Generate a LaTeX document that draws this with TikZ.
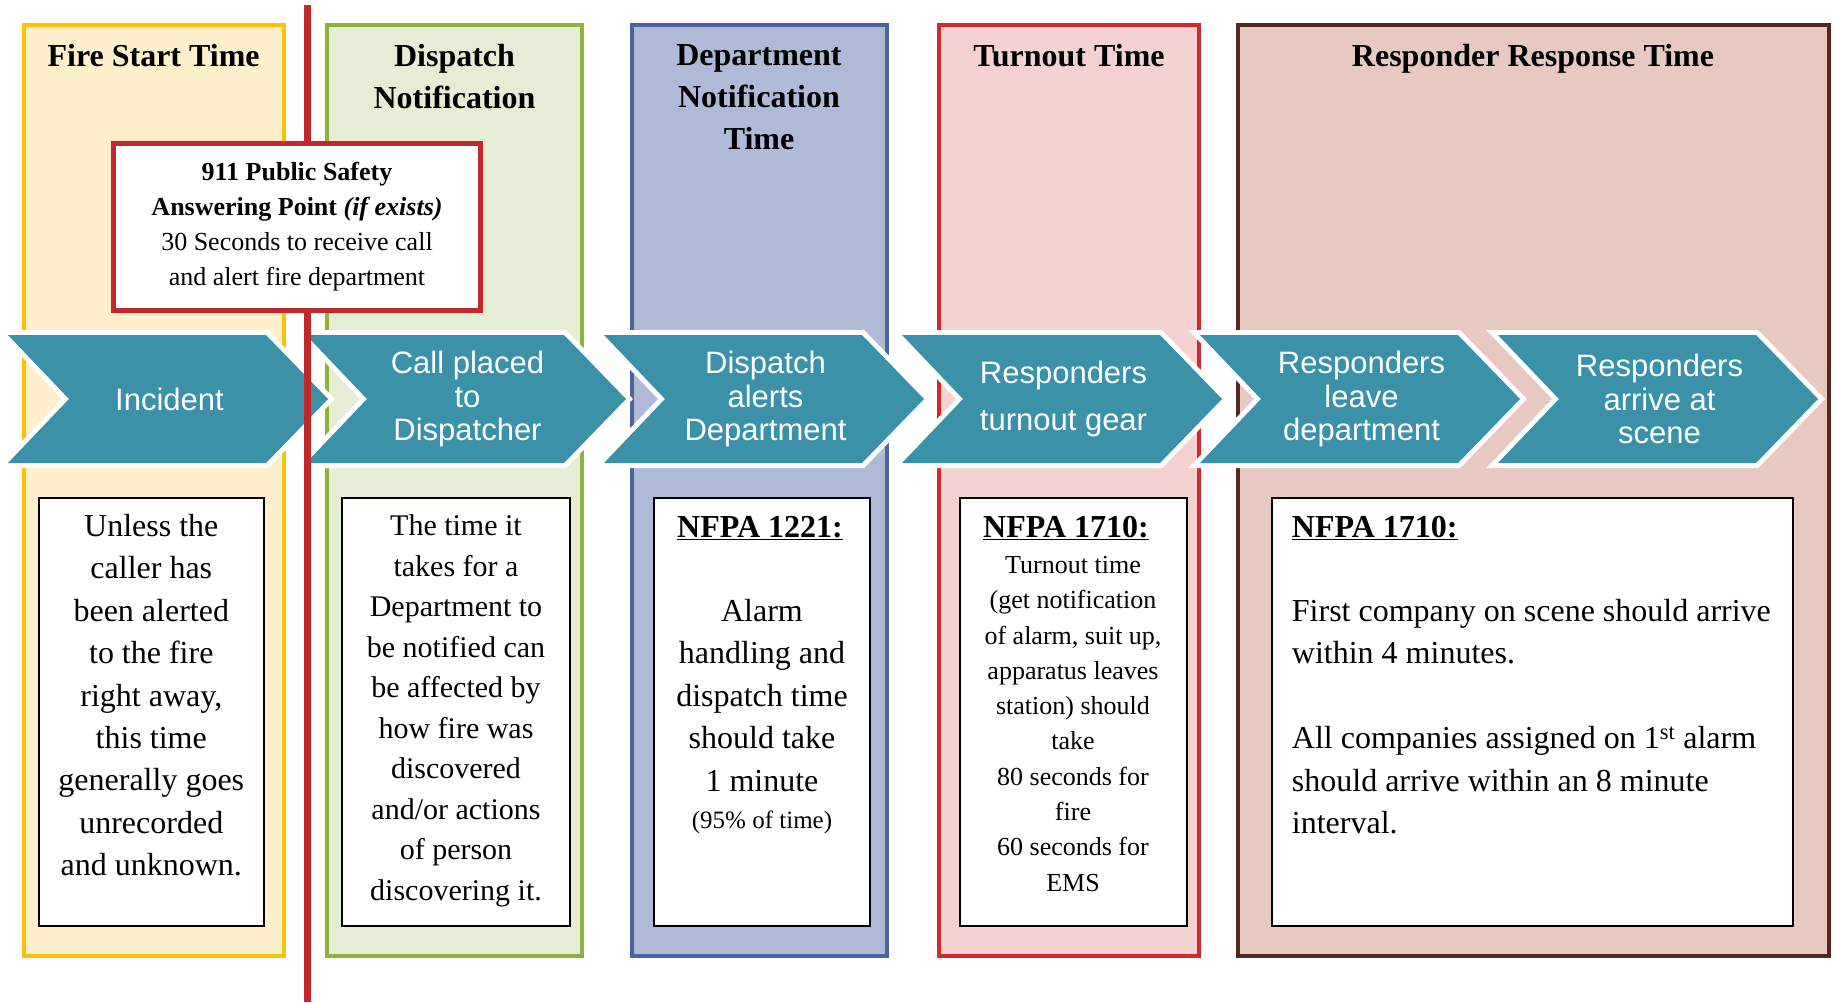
\documentclass[tikz,border=0pt]{standalone}
\usepackage{fontspec}
\setmainfont{Liberation Serif}
\newfontfamily\chevfont{Liberation Sans}
\definecolor{fireB}{HTML}{FFC000}
\definecolor{fireF}{HTML}{FFF0CD}
\definecolor{dispB}{HTML}{8DB33D}
\definecolor{dispF}{HTML}{E5EED5}
\definecolor{deptB}{HTML}{4A64A0}
\definecolor{deptF}{HTML}{AFBAD7}
\definecolor{turnB}{HTML}{CF2A30}
\definecolor{turnF}{HTML}{F4D2D2}
\definecolor{respB}{HTML}{55281F}
\definecolor{respF}{HTML}{E7C9C1}
\definecolor{redln}{HTML}{C0282D}
\definecolor{chevT}{HTML}{3A91A8}
\begin{document}
\begin{tikzpicture}[x=1pt,y=-1pt,
  colbox/.style={line width=4pt},
  ttl/.style={font=\bfseries\fontsize{32}{42}\selectfont, align=center, anchor=north, inner sep=0pt},
  chevtxt/.style={font=\chevfont\fontsize{31}{33.4}\selectfont, text=white, align=center, inner sep=0pt},
  txtbox/.style={draw=black, line width=2pt, fill=white},
  body/.style={font=\fontsize{32}{42.4}\selectfont, align=center, anchor=north, inner sep=0pt},
  head/.style={font=\bfseries\fontsize{32}{40}\selectfont, anchor=base, inner sep=0pt},
]
\useasboundingbox (0,0) rectangle (1833,1002);
% columns
\draw[colbox, draw=fireB, fill=fireF] (24,25) rectangle (283.5,956);
\draw[colbox, draw=dispB, fill=dispF] (327,25) rectangle (582,956);
\draw[colbox, draw=deptB, fill=deptF] (632,25) rectangle (886.5,956);
\draw[colbox, draw=turnB, fill=turnF] (939,25) rectangle (1199,956);
\draw[colbox, draw=respB, fill=respF] (1237.5,25) rectangle (1829,956);
% titles
\node[ttl] (t1) at (153.6,44) {Fire Start Time};
\node[ttl] (t2) at (454.5,44) {Dispatch\\Notification};
\node[ttl] (t3) at (759,44) {Department\\Notification\\Time};
\node[ttl] (t4) at (1069,44) {Turnout Time};
\node[ttl] (t5) at (1533,44) {Responder Response Time};
% text boxes
\draw[txtbox] (38.6,497.7) rectangle (264,926);
\draw[txtbox] (341.5,497.7) rectangle (570,926);
\draw[txtbox] (654,497.7) rectangle (870,926);
\draw[txtbox] (960,497.7) rectangle (1186.5,926);
\draw[txtbox] (1271.5,497.7) rectangle (1793,926);
\node[body] (firetxt) at (151.3,514) {Unless the\\caller has\\been alerted\\to the fire\\right away,\\this time\\generally goes\\unrecorded\\and unknown.};
\node[body, font=\fontsize{30}{40.5}\selectfont] (disptxt) at (456,514.5) {The time it\\takes for a\\Department to\\be notified can\\be affected by\\how fire was\\discovered\\and/or actions\\of person\\discovering it.};
\node[head] (depth) at (760,537.6) {\underline{NFPA 1221:}};
\node[body] (depttxt) at (762,599) {Alarm\\handling and\\dispatch time\\should take\\1 minute};
\node[anchor=base, inner sep=0pt, font=\fontsize{25}{30}\selectfont] (deptpct) at (762,828) {(95\% of time)};
\node[head] (turnh) at (1066,537.6) {\underline{NFPA 1710:}};
\node[body, font=\fontsize{26}{35.3}\selectfont] (turntxt) at (1073,556) {Turnout time\\(get notification\\of alarm, suit up,\\apparatus leaves\\station) should\\take\\80 seconds for\\fire\\60 seconds for\\EMS};
\node[head, anchor=base west] (resph) at (1291.7,537.6) {\underline{NFPA 1710:}};
\node[body, align=left, anchor=north west] (resptxt) at (1291.7,599) {First company on scene should arrive\\within 4 minutes.\\[42.4pt]All companies assigned on 1\textsuperscript{st} alarm\\should arrive within an 8 minute\\interval.};
% chevrons
\foreach \L/\nm/\txt in {8/ca/{Incident}, 306/cb/{Call placed\\to\\Dispatcher}, 604/cc/{Dispatch\\alerts\\Department}, 902/cd/{Responders\\[13.6pt]turnout gear}, 1200/ce/{Responders\\leave\\department}, 1498/cf/{Responders\\arrive at\\scene}} {
  \draw[white, line width=10pt, line join=miter] (\L,335) -- ++(258,0) -- ++(62,64) -- ++(-62,64) -- ++(-258,0) -- ++(61,-64) -- cycle;
  \fill[chevT] (\L,335) -- ++(258,0) -- ++(62,64) -- ++(-62,64) -- ++(-258,0) -- ++(61,-64) -- cycle;
  \node[chevtxt] (\nm) at (\L+161.5,399) {\txt};
}
% red line
\coordinate (rtop) at (307,5);
\coordinate (rbot) at (307,1002);
\draw[redln, line width=7pt] (rtop) -- (rbot);
% PSAP box
\node[draw=redln, line width=5pt, fill=white, minimum width=367pt, minimum height=167pt, inner sep=0pt, align=center, font=\fontsize{26}{35}\selectfont] (psap) at (297,227) {\textbf{911 Public Safety}\\\textbf{Answering Point} \textbf{\textit{(if exists)}}\\30 Seconds to receive call\\and alert fire department};
\end{tikzpicture}
\end{document}
